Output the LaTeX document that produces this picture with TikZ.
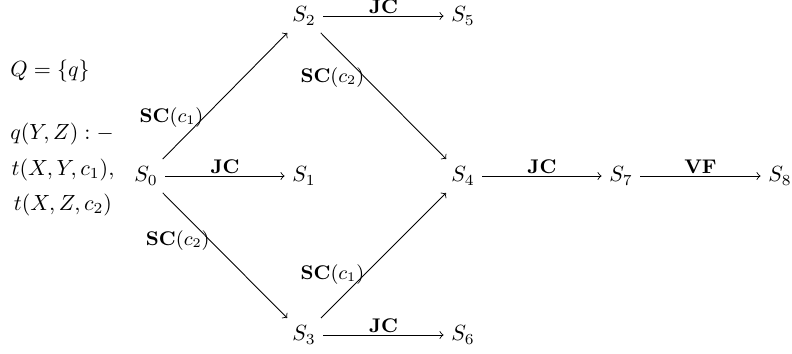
\documentclass[tikz,border=0pt]{standalone}
\usepackage{amsmath}
\begin{document}
\begin{tikzpicture}[x=0.455pt,y=-0.455pt,
  st/.style={inner sep=3.33pt},
  arr/.style={->,line width=0.4pt},
  lab/.style={font=\small,inner sep=0.8pt},
  slab/.style={font=\small,inner sep=0pt,anchor=east}]
\useasboundingbox (0,0) rectangle (792,354);
\node[anchor=west,inner sep=0pt] (Q) at (10,71) {$Q=\{q\}$};
\node[align=center,inner sep=0pt] (r1) at (62,134) {$q(Y,Z):-$};
\node[align=center,inner sep=0pt] (r2) at (63,170) {$t(X,Y,c_1),$};
\node[align=center,inner sep=0pt] (r3) at (63,205) {$t(X,Z,c_2)$};
\node[st] (s0) at (146,176) {$S_0$};
\node[st] (s1) at (304,176) {$S_1$};
\node[st] (s2) at (304,16) {$S_2$};
\node[st] (s5) at (463,16) {$S_5$};
\node[st] (s3) at (304,335) {$S_3$};
\node[st] (s6) at (463,335) {$S_6$};
\node[st] (s4) at (463,176) {$S_4$};
\node[st] (s7) at (621,176) {$S_7$};
\node[st] (s8) at (780,176) {$S_8$};
\draw[arr] (s0) -- node[lab,above] (l01) {\textbf{JC}} (s1);
\draw[arr] (s2) -- node[lab,above] (l25) {\textbf{JC}} (s5);
\draw[arr] (s3) -- node[lab,above] (l36) {\textbf{JC}} (s6);
\draw[arr] (s4) -- node[lab,above] (l47) {\textbf{JC}} (s7);
\draw[arr] (s7) -- node[lab,above] (l78) {\textbf{VF}} (s8);
\draw[arr] (s0) -- node[slab,pos=0.33] (l02) {\textbf{SC}$(c_1)$} (s2);
\draw[arr] (s0) -- node[slab,pos=0.38] (l03) {\textbf{SC}$(c_2)$} (s3);
\draw[arr] (s2) -- node[slab,pos=0.35] (l24) {\textbf{SC}$(c_2)$} (s4);
\draw[arr] (s3) -- node[slab,pos=0.35] (l34) {\textbf{SC}$(c_1)$} (s4);
\end{tikzpicture}
\end{document}
